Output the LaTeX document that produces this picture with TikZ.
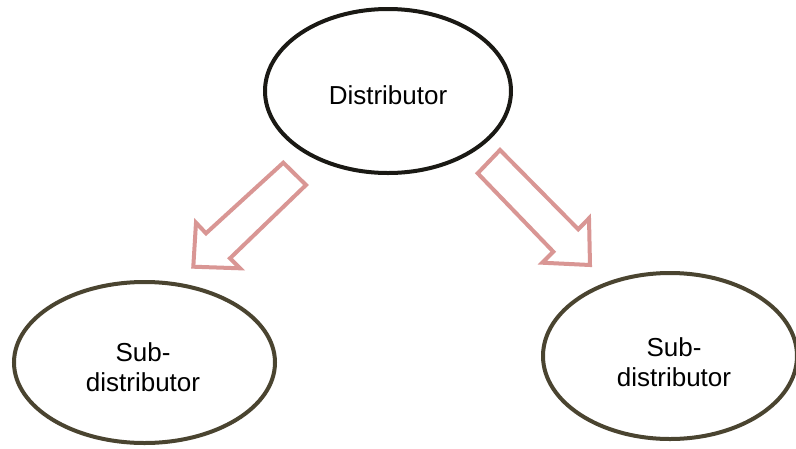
\documentclass[tikz,border=0pt]{standalone}
\usepackage{fontspec}
\setmainfont{Liberation Sans}
\usetikzlibrary{shapes.geometric}
\definecolor{topline}{HTML}{1A1914}
\definecolor{subline}{HTML}{4A4430}
\definecolor{arrowpink}{HTML}{D99694}
\tikzset{
  oval/.style={ellipse, line width=4pt, fill=white, inner sep=0pt},
  lbl/.style={align=center, font=\fontsize{26}{30}\selectfont},
  blockarrow/.style={draw=arrowpink, line width=4pt, fill=white, line join=miter}
}
\begin{document}
\begin{tikzpicture}[x=1pt,y=-1pt]
\useasboundingbox (0,0) rectangle (796,448);
\fill[white] (0,0) rectangle (796,448);
\node[oval, draw=topline, minimum width=246pt, minimum height=164pt] (dist) at (388,91) {};
\node[oval, draw=subline, minimum width=261pt, minimum height=161pt] (subl) at (144.5,362.5) {};
\node[oval, draw=subline, minimum width=254pt, minimum height=166pt] (subr) at (670,356) {};
\node[lbl] (td) at (388,95) {Distributor};
\node[lbl] (tl) at (143,367) {Sub-\\distributor};
\node[lbl] (tr) at (674,362) {Sub-\\distributor};
% left block arrow
\draw[blockarrow] (283.3,162.7) -- (306,185) -- (230,258.3) -- (240,268.3) -- (193.3,266.7) -- (196,222.7) -- (206,233.3) -- cycle;
% right block arrow
\draw[blockarrow] (500,150) -- (477.7,173.3) -- (553.3,251.7) -- (542.3,262.7) -- (590,265) -- (589,218.3) -- (578.3,229.3) -- cycle;
\end{tikzpicture}
\end{document}
